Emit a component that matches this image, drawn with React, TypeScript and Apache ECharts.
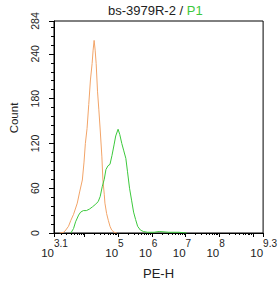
import React, { useEffect, useRef } from "react";
import * as echarts from "echarts";

const FONT = "'Liberation Sans', Arial, sans-serif";

// x values are log10(PE-H)
const controlLogX = [3.27, 3.39, 3.45, 3.53, 3.6, 3.68, 3.79, 3.86, 3.94, 3.99, 4.03, 4.08, 4.13, 4.18, 4.23, 4.26, 4.29, 4.32, 4.35, 4.39, 4.43, 4.47, 4.52, 4.55, 4.59, 4.61, 4.66, 4.71, 4.76, 4.81, 4.88, 4.96];
const controlCount = [0, 1, 4, 9, 17, 25, 40, 55, 71, 95, 120, 140, 172, 205, 227, 245, 258, 245, 227, 190, 165, 138, 102, 71, 52, 40, 26, 17, 9, 4, 1, 0];

const p1LogX = [3.6, 3.68, 3.74, 3.83, 3.89, 3.97, 4.06, 4.15, 4.24, 4.32, 4.41, 4.47, 4.53, 4.59, 4.64, 4.7, 4.76, 4.82, 4.88, 4.93, 5.0, 5.05, 5.11, 5.17, 5.23, 5.28, 5.34, 5.4, 5.46, 5.52, 5.58, 5.66, 5.75, 5.87, 6.07, 6.22, 6.5, 6.8, 7.03];
const p1Count = [0, 6, 15, 24, 28, 30, 30, 32, 35, 38, 42, 49, 62, 72, 85, 90, 92, 104, 118, 130, 139, 132, 120, 110, 100, 82, 60, 44, 28, 18, 9, 4, 2, 1, 1, 2, 1, 1, 0];

const xMin = 3.1;
const xMax = 9.3;
const xMajorTicks = [3.1, 4, 5, 6, 7, 8, 9, 9.3];
const xLabelValues = [3.1, 5, 6, 7, 8, 9.3];
const xLabelExps = ["3.1", "5", "6", "7", "8", "9.3"];
const minorMultipliers = [2, 3, 4, 5, 6, 7, 8, 9];
const minorDecades = [3, 4, 5, 6, 7, 8, 9];

const yMax = 284;
const yInterval = 60;

const titleMain = "bs-3979R-2 / ";
const titleSample = "P1";
const xName = "PE-H";
const yName = "Count";

const CONTROL_COLOR = "#f2a468";
const P1_COLOR = "#3cc83c";

export default function App() {
  const ref = useRef<HTMLDivElement>(null);
  useEffect(() => {
    if (!ref.current) return;
    const chart = echarts.init(ref.current, null, { renderer: "svg" });
    const minorTicks: number[] = [];
    minorDecades.forEach((d) =>
      minorMultipliers.forEach((m) => {
        const v = Math.log10(m) + d;
        if (v > xMin && v < xMax) minorTicks.push(v);
      })
    );
    const zip = (xs: number[], ys: number[]) => xs.map((x, i) => [x, ys[i]]);
    chart.setOption({
      animation: false,
      title: {
        text: `{a|${titleMain}}{b|${titleSample}}`,
        left: 108,
        top: 4,
        padding: 0,
        textStyle: {
          fontWeight: "normal",
          rich: {
            a: { fontFamily: FONT, fontSize: 13, fontWeight: "normal", color: "#222" },
            b: { fontFamily: FONT, fontSize: 13, fontWeight: "normal", color: P1_COLOR },
          },
        },
      },
      grid: {
        left: 53,
        right: 13,
        top: 21,
        bottom: 53,
        show: true,
        borderColor: "#000",
        borderWidth: 1,
        backgroundColor: "transparent",
      },
      xAxis: [
        {
          type: "value",
          min: xMin,
          max: xMax,
          name: xName,
          nameLocation: "middle",
          nameGap: 34,
          nameTextStyle: { fontFamily: FONT, fontSize: 13, color: "#222" },
          axisLine: { show: true, lineStyle: { color: "#000", width: 1 } },
          splitLine: { show: false },
          axisTick: { show: true, length: 4, customValues: xMajorTicks, lineStyle: { color: "#000" } },
          axisLabel: {
            show: true,
            customValues: xLabelValues,
            showMinLabel: true,
            showMaxLabel: true,
            margin: 5,
            align: "right",
            formatter: (v: number) => {
              const i = xLabelValues.findIndex((x) => Math.abs(x - v) < 1e-6);
              const e = i >= 0 ? xLabelExps[i] : String(v);
              return `{b|10}{s|${e}}`;
            },
            rich: {
              b: { fontFamily: FONT, fontSize: 11.5, color: "#222", lineHeight: 21, verticalAlign: "bottom", align: "left" },
              s: { fontFamily: FONT, fontSize: 10, color: "#222", lineHeight: 4, verticalAlign: "top", align: "left", width: 0 },
            },
          },
        },
        {
          type: "value",
          min: xMin,
          max: xMax,
          position: "bottom",
          axisLine: { show: false },
          splitLine: { show: false },
          axisLabel: { show: false },
          axisTick: { show: true, length: 2, customValues: minorTicks, lineStyle: { color: "#000" } },
        },
      ],
      yAxis: {
        type: "value",
        min: 0,
        max: yMax,
        interval: yInterval,
        name: yName,
        nameLocation: "middle",
        nameGap: 34,
        nameTextStyle: { fontFamily: FONT, fontSize: 11.5, color: "#222", padding: [0, 0, 0, 18] },
        axisLine: { show: true, lineStyle: { color: "#000", width: 1 } },
        splitLine: { show: false },
        axisTick: { show: true, length: 5, lineStyle: { color: "#000" } },
        minorTick: { show: true, splitNumber: 5, length: 3, lineStyle: { color: "#000" } },
        axisLabel: { rotate: 90, margin: 14, fontFamily: FONT, fontSize: 10.5, color: "#222" },
      },
      series: [
        {
          type: "line",
          data: zip(controlLogX, controlCount),
          showSymbol: false,
          symbol: "none",
          lineStyle: { color: CONTROL_COLOR, width: 1 },
          itemStyle: { color: CONTROL_COLOR },
        },
        {
          type: "line",
          data: zip(p1LogX, p1Count),
          showSymbol: false,
          symbol: "none",
          lineStyle: { color: P1_COLOR, width: 1 },
          itemStyle: { color: P1_COLOR },
        },
      ],
    });
    return () => chart.dispose();
  }, []);
  return (
    <div
      ref={ref}
      style={{ position: "fixed", left: 0, top: 0, width: 280, height: 286, background: "#fff" }}
    />
  );
}
